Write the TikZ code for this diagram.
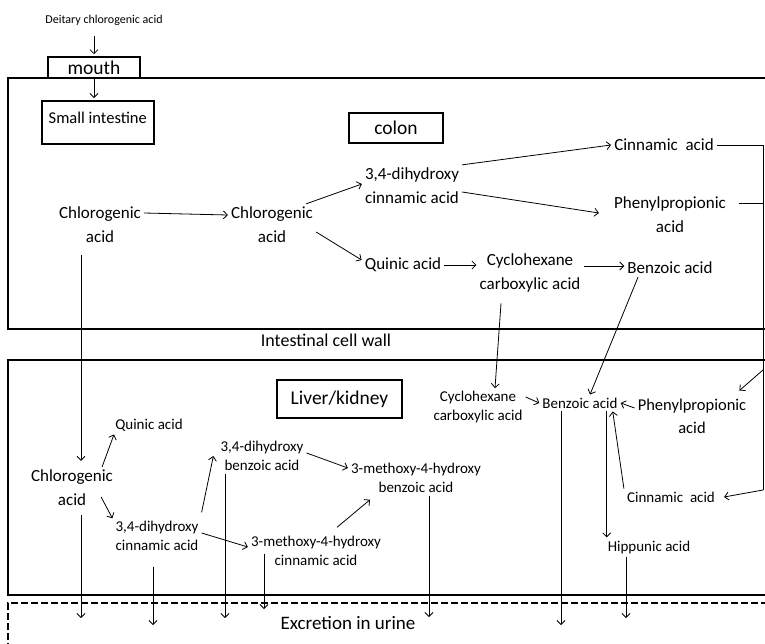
\documentclass[tikz,border=0pt]{standalone}
\usepackage{fontspec}
\setmainfont{Carlito}
\usepackage{tikz}
\usetikzlibrary{positioning,arrows.meta}
\newcommand\bigfont{\fontsize{17}{24}\selectfont}
\newcommand\smfont{\fontsize{15}{18.5}\selectfont}
\newcommand\tagfont{\fontsize{19.5}{24}\selectfont}
\tikzstyle{arrow} = [line width=0.8pt,->,>={Straight Barb[length=4pt,width=8pt]}]
\tikzstyle{link} = [line width=0.8pt]

\begin{document}
\begin{tikzpicture} [
    x=1pt,y=-1pt,
    cmpd/.style={align=center,font=\bigfont,inner sep=3pt},
    cmpdsm/.style={align=center,font=\smfont,inner sep=3pt},
    organ/.style={draw,line width=1.6pt,font=\tagfont,inner sep=0pt},
    wall/.style={line width=1.6pt},
    ]
    \useasboundingbox (0,0) rectangle (765,643);
    \clip (0,0) rectangle (765,643);

    % compartments
    \draw[wall] (8,78) rectangle (790,329);
    \draw[wall] (8,360) rectangle (790,595);
    \draw[wall,dash pattern=on 7pt off 3pt] (8,660) -- (8,603) -- (790,603);

    \node [font=\fontsize{12}{14}\selectfont] (diet) at (104,20) {Deitary chlorogenic acid};
    \node [organ,minimum width=92,minimum height=21] (mouth) at (94,67.5) {mouth};
    \node [organ,anchor=north west,minimum width=112,text height=20pt,text depth=17pt,inner sep=3pt,font=\fontsize{16.5}{20}\selectfont] (si) at (41,100) {Small intestine};
    \node [organ,minimum width=94,minimum height=30] (colon) at (396,128) {colon};
    \node [organ,minimum width=125,minimum height=38] (liver) at (339.5,399) {Liver/kidney};
    \node [font=\fontsize{18}{22}\selectfont] (cell) at (326,340) {Intestinal cell wall};
    \node [font=\fontsize{19}{22}\selectfont] (urine) at (348,623) {Excretion in urine};

    % colon
    \node [cmpd] (chlS) at (100,225) {Chlorogenic\\acid};
    \path (chlS) ++(172,0) node [cmpd] (chlC) {Chlorogenic\\acid};
    \node [cmpd] (dhcC) at (412,186) {3,4-dihydroxy\\cinnamic acid};
    \node [cmpd] (quiC) at (403,265) {Quinic acid};
    \node [cmpd] (cinC) at (664,145) {Cinnamic\ \ acid};
    \node [cmpd] (phC) at (670,215) {Phenylpropionic\\acid};
    \node [cmpd] (cyC) at (530,273) {Cyclohexane\\carboxylic acid};
    \node [cmpd] (bzC) at (670,268) {Benzoic acid};

    % liver/kidney
    \node [cmpd] (chlL) at (72,488) {Chlorogenic\\acid};
    \node [cmpdsm] (quiL) at (149,425) {Quinic acid};
    \node [cmpdsm] (dhcL) at (157,536) {3,4-dihydroxy\\cinnamic acid};
    \node [cmpdsm] (dhbL) at (262,456) {3,4-dihydroxy\\benzoic acid};
    \node [cmpdsm] (mhcL) at (316,551) {3-methoxy-4-hydroxy\\cinnamic acid};
    \node [cmpdsm] (mhbL) at (416,478) {3-methoxy-4-hydroxy\\benzoic acid};
    \node [cmpdsm] (cyL) at (478,407) {Cyclohexane\\carboxylic acid};
    \node [cmpdsm] (bzL) at (580,403) {Benzoic acid};
    \node [cmpd,font=\fontsize{16.5}{23}\selectfont] (phL) at (692,416) {Phenylpropionic\\acid};
    \node [cmpdsm] (cinL) at (671,497) {Cinnamic\ \ acid};
    \node [cmpdsm] (hipL) at (649,547) {Hippunic acid};

    \coordinate (r1) at (763,145);
    \coordinate (r2) at (763,203);
    \coordinate (r3) at (763,370);
    \coordinate (r4) at (763,490);
    \coordinate (u1) at (81,618);
    \coordinate (u2) at (153,625);
    \coordinate (u3) at (225,618);
    \coordinate (u4) at (264,609);
    \coordinate (u5) at (429,617);
    \coordinate (u6) at (561,625);
    \coordinate (u7) at (626,618);

    \draw[arrow] (diet.south -| mouth.north) ++(0,7) -- ([yshift=2pt]mouth.north);
    \draw[arrow] (mouth.south) -- ([yshift=2pt]mouth.south |- si.north);
    \draw[arrow] ([yshift=12pt]chlS.east) -- ([yshift=10pt]chlC.west);
    \draw[arrow] ([xshift=-10pt]chlC.north east) -- ([yshift=2pt]dhcC.west);
    \draw[arrow] ([yshift=-7pt]chlC.east) -- ([yshift=5pt]quiC.west);
    \draw[arrow] (dhcC.north east) -- (cinC.west);
    \draw[arrow] ([yshift=-6pt]dhcC.east) -- ([xshift=-12pt,yshift=2pt]phC.west);
    \draw[arrow] (quiC.east) -- (quiC.east -| cyC.west);
    \draw[arrow] ([yshift=7pt]cyC.east) -- ([yshift=7pt]cyC.east -| bzC.west);
    \draw[arrow] ([xshift=-29pt,yshift=-8pt]cyC.south) -- ([xshift=17pt]cyL.north);
    \draw[arrow] ([xshift=-32pt]bzC.south) -- ([xshift=10pt]bzL.north);
    \draw[link] (cinC.east) -- (r1) -- (r4);
    \draw[link] ([xshift=10pt,yshift=12pt]phC.east) -- (r2);
    \draw[arrow] (r3) -- ([xshift=-10pt,yshift=5pt]phL.north east);
    \draw[arrow] (r4) -- ([xshift=6pt]cinL.east);
    %absorbed straight into the blood
    \draw[arrow] ([xshift=-19pt,yshift=-9pt]chlS.south) -- ([xshift=9pt,yshift=6pt]chlL.north);

    \draw[arrow] ([xshift=-14pt]chlL.north east) -- ([xshift=-35pt]quiL.south);
    \draw[arrow] ([xshift=-15pt,yshift=-9pt]chlL.east) -- (dhcL.north west);
    \draw[arrow] ([yshift=6pt]dhcL.north east) -- ([xshift=-4pt]dhbL.west);
    \draw[arrow] ([yshift=3pt]dhcL.east) -- ([yshift=4pt]mhcL.west);
    \draw[arrow] ([xshift=21pt,yshift=6pt]mhcL.north) -- ([xshift=-46pt,yshift=-4pt]mhbL.south);
    \draw[arrow] ([yshift=3pt]dhbL.east) -- ([yshift=10pt]mhbL.west);
    \draw[arrow] ([yshift=10pt]cyL.east) -- (bzL.west);
    \draw[arrow] ([yshift=8pt]phL.west) -- (bzL.east);
    \draw[arrow] (cinL.north west) -- ([xshift=-8pt]bzL.south east);
    \draw[arrow] ([xshift=-14pt]bzL.south east) -- ([xshift=-14pt]bzL.south east |- hipL.north);

    % excretion
    \draw[arrow] (chlL.south -| u1) ++(0,6) -- (u1);
    \draw[arrow] (dhcL.south -| u2) ++(0,13) -- (u2);
    \draw[arrow] (dhbL.south -| u3) -- (u3);
    \draw[arrow] (mhcL.south -| u4) ++(0,-15) -- (u4);
    \draw[arrow] (mhbL.south -| u5) -- (u5);
    \draw[arrow] (bzL.south -| u6) -- (u6);
    \draw[arrow] (hipL.south -| u7) -- (u7);
\end{tikzpicture}
\end{document}
